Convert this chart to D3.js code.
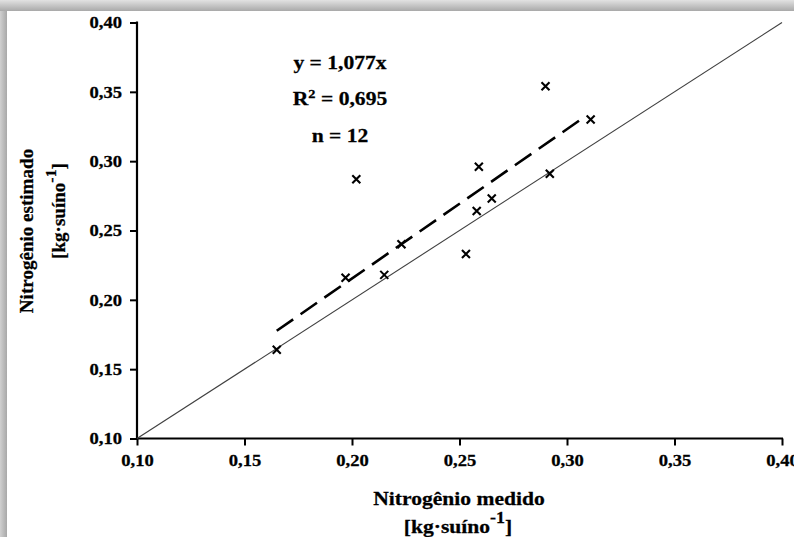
<!DOCTYPE html>
<html>
<head>
<meta charset="utf-8">
<script src="https://cdn.jsdelivr.net/npm/d3@7"></script>
<style>
  html, body { margin: 0; padding: 0; background: #fff; }
  svg { display: block; }
</style>
</head>
<body>
<svg id="chart" width="794" height="537"></svg>
<script>
// Measured vs estimated nitrogen (kg per pig)
const medido   = [0.165, 0.197, 0.202, 0.215, 0.223, 0.253, 0.258, 0.259, 0.265, 0.290, 0.292, 0.311];
const estimado = [0.164, 0.216, 0.287, 0.218, 0.240, 0.233, 0.264, 0.296, 0.273, 0.354, 0.291, 0.330];
const tickValues = [0.10, 0.15, 0.20, 0.25, 0.30, 0.35, 0.40];
const slope = 1.077;
const fitRange = [0.165, 0.307];
const annotations = ["y = 1,077x", "R2 = 0,695", "n = 12"];

const SERIF = "'Liberation Serif', 'Times New Roman', Times, serif";
// the figure is printed slightly wider than tall
const SX = 1.2, SY = 1.06;

const svg = d3.select("#chart")
  .attr("font-family", SERIF)
  .attr("font-weight", "bold");
const W = 794, H = 537;

// framed panel with soft shading on top and left edges
const defs = svg.append("defs");
const gTop = defs.append("linearGradient").attr("id", "shadeTop").attr("x1", 0).attr("y1", 0).attr("x2", 0).attr("y2", 1);
gTop.append("stop").attr("offset", "0%").attr("stop-color", "#e2e2e2");
gTop.append("stop").attr("offset", "100%").attr("stop-color", "#a9a9a9");
const gLeft = defs.append("linearGradient").attr("id", "shadeLeft").attr("x1", 0).attr("y1", 0).attr("x2", 1).attr("y2", 0);
gLeft.append("stop").attr("offset", "0%").attr("stop-color", "#d0d0d0");
gLeft.append("stop").attr("offset", "100%").attr("stop-color", "#a8a8a8");

svg.append("rect").attr("x", 0).attr("y", 0).attr("width", 7).attr("height", H).attr("fill", "url(#shadeLeft)");
svg.append("rect").attr("x", 0).attr("y", 0).attr("width", W).attr("height", 11).attr("fill", "url(#shadeTop)");
svg.append("rect").attr("x", 7).attr("y", 11).attr("width", W - 7).attr("height", H - 11).attr("fill", "#fff");

const x = d3.scaleLinear().domain([0.10, 0.40]).range([137, 782]);
const y = d3.scaleLinear().domain([0.10, 0.40]).range([438.5, 22.5]);
const fmt = d => d3.format(".2f")(d).replace(".", ",");

// axes
const xAxis = svg.append("g").attr("transform", `translate(0,${y(0.10)})`)
  .call(d3.axisBottom(x).tickValues(tickValues).tickFormat(fmt).tickSizeOuter(0).tickSize(7).tickPadding(9));
const yAxis = svg.append("g").attr("transform", `translate(${x(0.10)},0)`)
  .call(d3.axisLeft(y).tickValues(tickValues).tickFormat(fmt).tickSizeOuter(0).tickSize(7).tickPadding(8));
[xAxis, yAxis].forEach(g => {
  g.attr("font-family", SERIF).attr("font-size", 15.5).attr("font-weight", "bold");
  g.select(".domain").attr("stroke", "#000").attr("stroke-width", 2.2);
  g.selectAll(".tick line").attr("stroke", "#000").attr("stroke-width", 2);
  g.selectAll(".tick text").attr("fill", "#000").attr("stroke", "#000").attr("stroke-width", 0.25);
});
// widen tick labels in place
xAxis.selectAll(".tick text").each(function () {
  const t = d3.select(this), ty = +t.attr("y");
  t.attr("y", 0).attr("transform", `translate(0,${ty}) scale(${SX},${SY})`);
});
yAxis.selectAll(".tick text").each(function () {
  const t = d3.select(this), tx = +t.attr("x");
  t.attr("x", 0).attr("transform", `translate(${tx},0) scale(${SX},${SY})`);
});
// extend axis lines over the tick width
xAxis.select(".domain").attr("d", `M${x(0.10) - 1},0H${x(0.40) + 1}`);
yAxis.select(".domain").attr("d", `M0,${y(0.10) + 1}V${y(0.40) - 1}`);

// 1:1 reference line
svg.append("line")
  .attr("x1", x(0.10)).attr("y1", y(0.10))
  .attr("x2", x(0.40)).attr("y2", y(0.40))
  .attr("stroke", "#404040").attr("stroke-width", 1.1);

// fitted line through origin
svg.append("line")
  .attr("x1", x(fitRange[0])).attr("y1", y(fitRange[0] * slope))
  .attr("x2", x(fitRange[1])).attr("y2", y(fitRange[1] * slope))
  .attr("stroke", "#000").attr("stroke-width", 2.6)
  .attr("stroke-dasharray", "20,9");

// observations as x markers
const s = 4;
svg.append("g").selectAll("path").data(medido.map((m, i) => [m, estimado[i]])).join("path")
  .attr("d", d => {
    const cx = x(d[0]), cy = y(d[1]);
    return `M${cx - s},${cy - s}L${cx + s},${cy + s}M${cx - s},${cy + s}L${cx + s},${cy - s}`;
  })
  .attr("stroke", "#000").attr("stroke-width", 2.1).attr("fill", "none");

// text placed at (px, py) with its own scale, optionally rotated
function label(px, py, size, sx, sy, rotate) {
  return svg.append("text")
    .attr("transform", `translate(${px},${py}) scale(${sx},${sy})` + (rotate ? " rotate(-90)" : ""))
    .attr("text-anchor", "middle").attr("font-size", size)
    .attr("fill", "#000").attr("stroke", "#000").attr("stroke-width", 0.25);
}

// regression statistics
const annY = [69, 105, 142];
label(340, annY[0], 18, SX, SY).text(annotations[0]);
const r2 = label(340, annY[1], 18, SX, SY);
r2.append("tspan").text("R");
r2.append("tspan").attr("dy", -7).attr("font-size", 12).text("2");
r2.append("tspan").attr("dy", 7).text(annotations[1].slice(2));
label(340, annY[2], 18, SX, SY).text(annotations[2]);

// axis titles
function unitLabel(sel) {
  sel.append("tspan").text("[kg·suíno");
  sel.append("tspan").attr("dy", -9).attr("font-size", 15).text("-1");
  sel.append("tspan").attr("dy", 9).text("]");
}
label(459, 505, 18, SX, SY).text("Nitrogênio medido");
label(458, 533, 18, SX, SY).call(unitLabel);

label(33, 231, 18, 1, SY, true).text("Nitrogênio estimado");
label(65, 211, 18, 1, SY, true).call(unitLabel);
</script>
</body>
</html>
